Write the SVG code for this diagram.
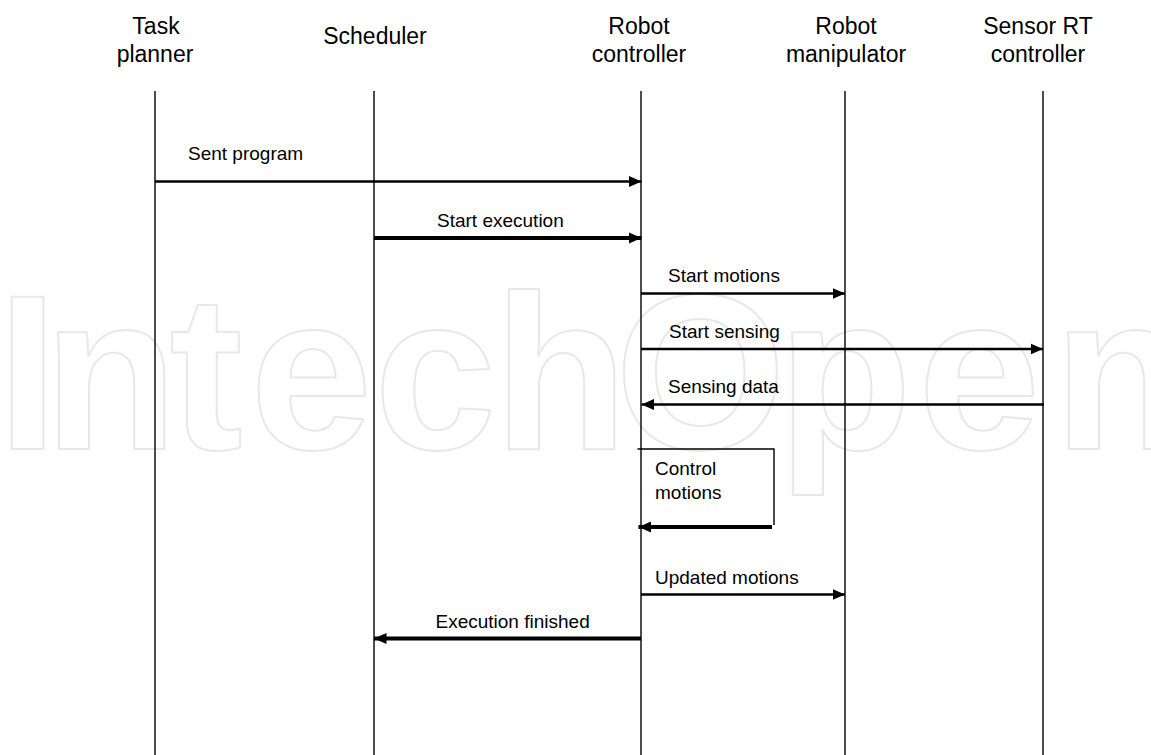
<svg xmlns="http://www.w3.org/2000/svg" width="1151" height="755" viewBox="0 0 1151 755">
  <style>
    .head { font-family: "Liberation Sans", Arial, sans-serif; font-size: 23px; fill: #000; text-anchor: middle; }
    .lbl { font-family: "Liberation Sans", Arial, sans-serif; font-size: 19px; fill: #000; }
    .life { stroke: #000; stroke-width: 1.4; fill: none; }
    .msg { stroke: #000; stroke-width: 2.4; fill: none; }
    .msg-bold { stroke: #000; stroke-width: 4; fill: none; }
    .mark { font-family: "Liberation Sans", Arial, sans-serif; font-weight: bold; font-size: 220px; fill: none; stroke: #e8e8e8; stroke-width: 2; stroke-linejoin: round; }
  </style>
  <defs>
    <marker id="arrow" markerUnits="userSpaceOnUse" markerWidth="13" markerHeight="12" viewBox="0 0 13 12" refX="12.5" refY="6" orient="auto">
      <path d="M0,0.5 L12.5,6 L0,11.5 Z" fill="#000"/>
    </marker>
  </defs>

  <rect width="1151" height="755" fill="#fff"/>

  <!-- publisher watermark, outlined letters -->
  <text class="mark" x="-3 43.5 169.5 250 374 493.5 615 777.5 918 1053.5" y="449">IntechOpen</text>

  <!-- participants with their lifelines -->
  <g id="task-planner">
    <text class="head" x="156" y="34">Task</text>
    <text class="head" x="155" y="62">planner</text>
    <line class="life" x1="155" y1="91" x2="155" y2="755"/>
  </g>
  <g id="scheduler">
    <text class="head" x="375" y="43.5">Scheduler</text>
    <line class="life" x1="374" y1="91" x2="374" y2="755"/>
  </g>
  <g id="robot-controller">
    <text class="head" x="639" y="34">Robot</text>
    <text class="head" x="639" y="62">controller</text>
    <line class="life" x1="641" y1="91" x2="641" y2="755"/>
  </g>
  <g id="robot-manipulator">
    <text class="head" x="846" y="34">Robot</text>
    <text class="head" x="846" y="62">manipulator</text>
    <line class="life" x1="845" y1="91" x2="845" y2="755"/>
  </g>
  <g id="sensor-rt-controller">
    <text class="head" x="1038" y="34">Sensor RT</text>
    <text class="head" x="1038" y="62">controller</text>
    <line class="life" x1="1043" y1="91" x2="1043" y2="755"/>
  </g>

  <!-- messages -->
  <g id="connectors">
    <line class="msg" x1="155" y1="181.5" x2="641.5" y2="181.5" marker-end="url(#arrow)"/>
    <text class="lbl" x="188" y="160">Sent program</text>

    <line class="msg-bold" x1="374" y1="238" x2="641.5" y2="238" marker-end="url(#arrow)"/>
    <text class="lbl" x="437" y="226.5">Start execution</text>

    <line class="msg" x1="641" y1="293.5" x2="845" y2="293.5" marker-end="url(#arrow)"/>
    <text class="lbl" x="668" y="282">Start motions</text>

    <line class="msg" x1="641" y1="349" x2="1043" y2="349" marker-end="url(#arrow)"/>
    <text class="lbl" x="669" y="338">Start sensing</text>

    <line class="msg" x1="1044" y1="404.5" x2="641.5" y2="404.5" marker-end="url(#arrow)"/>
    <text class="lbl" x="668" y="393">Sensing data</text>

    <!-- self call on the robot controller -->
    <polyline class="life" points="637.5,449 774,449 774,525"/>
    <line class="msg-bold" x1="772" y1="527" x2="638.5" y2="527" marker-end="url(#arrow)"/>
    <text class="lbl" x="655" y="475">Control</text>
    <text class="lbl" x="655" y="499">motions</text>

    <line class="msg" x1="641" y1="594.5" x2="845" y2="594.5" marker-end="url(#arrow)"/>
    <text class="lbl" x="655" y="583.5">Updated motions</text>

    <line class="msg-bold" x1="641" y1="638.5" x2="374" y2="638.5" marker-end="url(#arrow)"/>
    <text class="lbl" x="435.5" y="627.5">Execution finished</text>
  </g>
</svg>
